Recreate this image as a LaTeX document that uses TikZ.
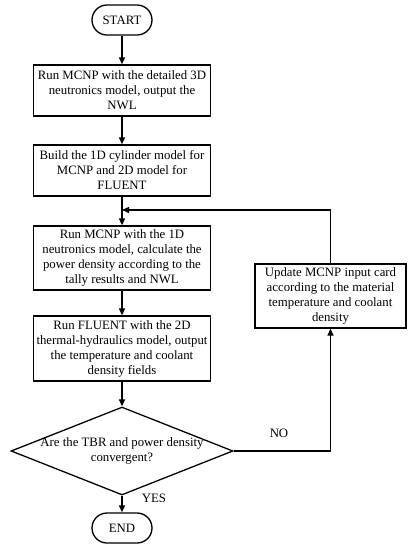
\documentclass[tikz,border=0pt]{standalone}
\usepackage{fontspec}
\setmainfont{Liberation Serif}
\usetikzlibrary{arrows.meta,shapes.geometric}
\tikzset{
  flow text/.style={font=\fontsize{12.8}{15}\selectfont,align=center},
  process box/.style={flow text,draw,line width=1.3pt,minimum width=177pt,inner sep=2pt},
  terminal/.style={flow text,draw,line width=1.3pt,rounded corners=15pt,minimum width=60pt,minimum height=30pt},
  decision/.style={draw,line width=1.3pt,diamond,minimum width=222pt,minimum height=88pt,inner sep=0pt},
  flow arrow/.style={-{Triangle[length=7pt,width=6pt]},line width=1.3pt}
}
\begin{document}
\begin{tikzpicture}[x=1pt,y=-1pt]
\useasboundingbox (0,0) rectangle (413,550);
\node[terminal] (start) at (122,20) {START};
\node[process box,minimum height=51pt] (detailed) at (122,90.5) {Run MCNP with the detailed 3D\\neutronics model, output the\\NWL};
\node[process box,minimum height=51pt] (setup) at (122,170.5) {Build the 1D cylinder model for\\MCNP and 2D model for\\FLUENT};
\node[process box,minimum height=64pt] (neutron) at (122,258) {Run MCNP with the 1D\\neutronics model, calculate the\\power density according to the\\tally results and NWL};
\node[process box,minimum height=65pt] (thermal) at (122,348.5) {Run FLUENT with the 2D\\thermal-hydraulics model, output\\the temperature and coolant\\density fields};
\node[process box,minimum width=151pt,minimum height=64pt] (update) at (330.5,296) {Update MCNP input card\\according to the material\\temperature and coolant\\density};
\node[decision] (check) at (122,451) {};
\node[flow text] (check text) at (check) {Are the TBR and power density\\convergent?};
\node[terminal] (end) at (122,528) {END};
\coordinate (merge) at (122,210);
% main line
\draw[flow arrow] (start) -- (detailed);
\draw[flow arrow] (detailed) -- (setup);
\draw[flow arrow] (setup) -- (neutron);
\draw[flow arrow] (neutron) -- (thermal);
\draw[flow arrow] (thermal) -- (check);
\draw[flow arrow] (check) -- (end);
% feedback loop
\draw[flow arrow] (check.east) -| (update.south);
\draw[flow arrow] (update.north) |- (merge);
\node[flow text] (no label) at (279,433) {NO};
\node[flow text] (yes label) at (154,498) {YES};
\end{tikzpicture}
\end{document}
